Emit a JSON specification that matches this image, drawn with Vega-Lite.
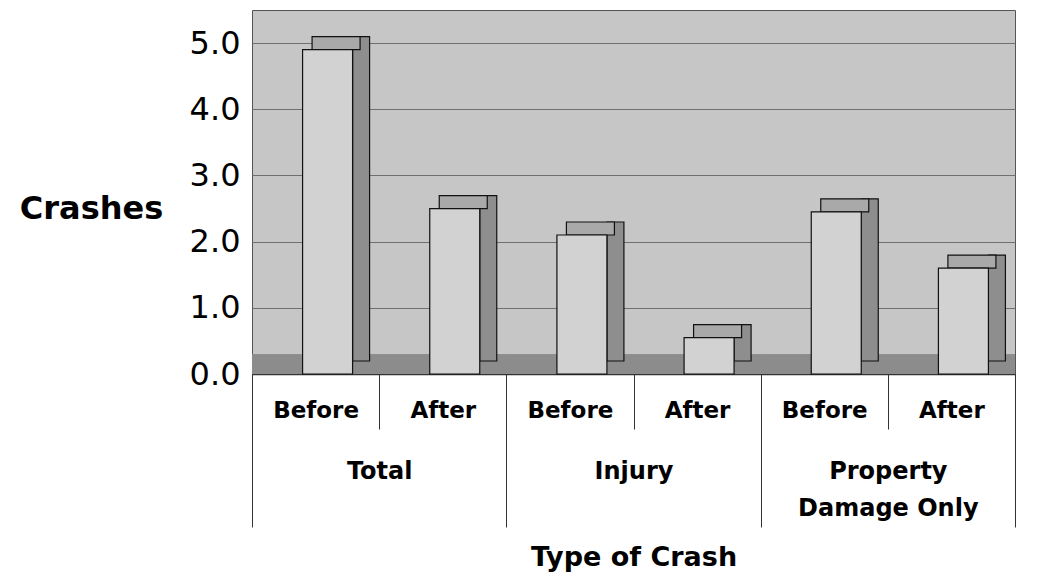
{
  "$schema": "https://vega.github.io/schema/vega-lite/v6.json",
  "width": 763,
  "height": 364,
  "autosize": {"type": "none"},
  "padding": {"left": 252, "top": 10, "right": 27, "bottom": 210},
  "background": "#ffffff",
  "view": {"fill": "#c6c6c6", "stroke": "#555555", "strokeWidth": 1},
  "config": {"font": "DejaVu Sans"},
  "data": {
    "values": [
      {"group": "Total", "period": "Before", "key": "Total|Before", "crashes": 4.9},
      {"group": "Total", "period": "After", "key": "Total|After", "crashes": 2.5},
      {"group": "Injury", "period": "Before", "key": "Injury|Before", "crashes": 2.1},
      {"group": "Injury", "period": "After", "key": "Injury|After", "crashes": 0.55},
      {"group": "Property Damage Only", "period": "Before", "key": "Property Damage Only|Before", "crashes": 2.45},
      {"group": "Property Damage Only", "period": "After", "key": "Property Damage Only|After", "crashes": 1.6}
    ]
  },
  "layer": [
    {
      "mark": {"type": "rect", "fill": "#8c8c8c"},
      "encoding": {
        "x": {
          "field": "group", "type": "nominal", "sort": null,
          "scale": {"paddingInner": 0, "paddingOuter": 0},
          "axis": {
            "orient": "bottom",
            "title": "Type of Crash",
            "titleFont": "DejaVu Sans", "titleFontSize": 27, "titleFontWeight": "bold", "titleColor": "#000000",
            "titleY": 183, "titleBaseline": "middle",
            "domain": false, "grid": false,
            "tickBand": "extent", "tickSize": 153, "tickColor": "#333333", "tickWidth": 1,
            "labelAngle": 0, "labelAlign": "center", "labelLimit": 400,
            "labelFont": "DejaVu Sans", "labelFontSize": 24, "labelFontWeight": "bold", "labelColor": "#000000",
            "labelPadding": -68, "labelBaseline": "top", "labelLineHeight": 37,
            "labelExpr": "datum.value == 'Property Damage Only' ? ['Property', 'Damage Only'] : datum.value"
          }
        },
        "y": {"datum": 0, "type": "quantitative"},
        "y2": {"datum": 0.3}
      }
    },
    {
      "layer": [
        {
          "mark": {"type": "bar", "width": 17, "xOffset": 45.5, "yOffset": -13, "fill": "#8e8e8e", "stroke": "#111111", "strokeWidth": 1.2},
          "encoding": {
            "x": {"field": "key", "type": "nominal", "sort": null},
            "y": {"field": "crashes", "type": "quantitative"}
          }
        },
        {
          "mark": {"type": "tick", "orient": "horizontal", "size": 48, "thickness": 13, "xOffset": 20.5, "yOffset": -6.5, "fill": "#a9a9a9", "stroke": "#111111", "strokeWidth": 1.2, "opacity": 1},
          "encoding": {
            "x": {"field": "key", "type": "nominal", "sort": null},
            "y": {"field": "crashes", "type": "quantitative"}
          }
        },
        {
          "mark": {"type": "bar", "width": 50, "xOffset": 12, "fill": "#d2d2d2", "stroke": "#111111", "strokeWidth": 1.2},
          "encoding": {
            "x": {
              "field": "key", "type": "nominal", "sort": null,
              "scale": {"paddingInner": 0, "paddingOuter": 0},
              "axis": {
                "orient": "bottom",
                "title": null,
                "domain": true, "domainColor": "#333333", "domainWidth": 1.5,
                "grid": false,
                "tickBand": "extent", "tickSize": 55, "tickColor": "#333333", "tickWidth": 1,
                "labelAngle": 0, "labelAlign": "center", "labelLimit": 300,
                "labelFont": "DejaVu Sans", "labelFontSize": 23, "labelFontWeight": "bold", "labelColor": "#000000",
                "labelPadding": -30, "labelBaseline": "top",
                "labelExpr": "split(datum.value, '|')[1]"
              }
            },
            "y": {
              "field": "crashes", "type": "quantitative",
              "scale": {"domain": [0, 5.5], "nice": false},
              "axis": {
                "values": [0, 1, 2, 3, 4, 5],
                "format": ".1f",
                "title": "Crashes",
                "titleFont": "DejaVu Sans", "titleFontSize": 32, "titleFontWeight": "bold", "titleColor": "#000000",
                "titleAngle": 0, "titleX": -161, "titleY": 198, "titleAlign": "center", "titleBaseline": "middle",
                "domain": false, "ticks": false,
                "grid": true, "gridColor": "#707070", "gridWidth": 1,
                "labelFont": "DejaVu Sans", "labelFontSize": 32, "labelColor": "#000000", "labelPadding": 12
              }
            }
          }
        }
      ]
    }
  ],
  "resolve": {"scale": {"x": "independent"}, "axis": {"x": "independent"}}
}
